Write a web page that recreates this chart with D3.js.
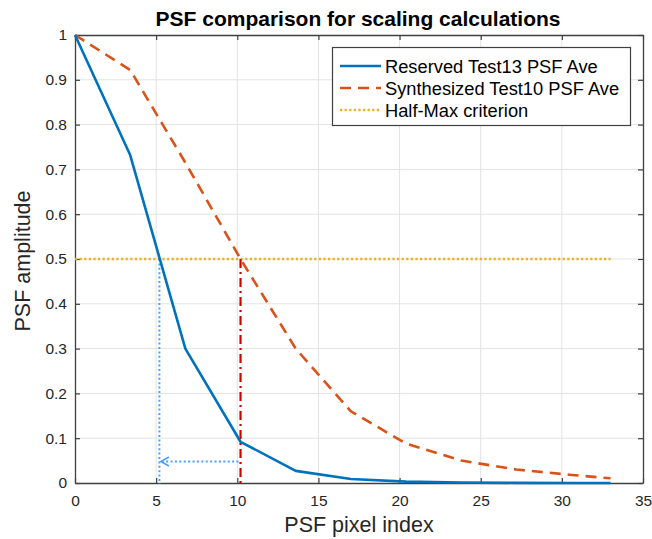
<!DOCTYPE html>
<html>
<head>
<meta charset="utf-8">
<script src="https://cdn.jsdelivr.net/npm/d3@7"></script>
<style>
  html, body { margin: 0; padding: 0; background: #fff; }
  svg { display: block; font-family: "Liberation Sans", Arial, Helvetica, sans-serif; }
</style>
</head>
<body>
<svg id="chart" width="652" height="539"></svg>
<script>
// PSF sample positions (pixel index) and averaged amplitudes
const pixelIndex = [0, 3.4, 6.8, 10.2, 13.6, 17, 20.4, 23.8, 27.2, 30.6, 33];
const reservedTest13 = [1, 0.732, 0.30, 0.092, 0.027, 0.009, 0.003, 0.001, 0.0003, 0.0001, 0];
const synthesizedTest10 = [1, 0.922, 0.715, 0.50, 0.30, 0.16, 0.088, 0.05, 0.03, 0.018, 0.0105];
const halfMax = 0.5;
// half-max widths
const fwhmReserved = 5.2;
const fwhmSynthesized = 10.2;
const arrowLevel = 0.048;

const xTicks = [0, 5, 10, 15, 20, 25, 30, 35];
const yTicks = [0, 0.1, 0.2, 0.3, 0.4, 0.5, 0.6, 0.7, 0.8, 0.9, 1];
const seriesNames = ["Reserved Test13 PSF Ave", "Synthesized Test10 PSF Ave", "Half-Max criterion"];

const svg = d3.select("#chart");
const mLeft = 75, mRight = 643, mTop = 35, mBottom = 483;

const x = d3.scaleLinear().domain([0, 35]).range([mLeft, mRight]);
const y = d3.scaleLinear().domain([0, 1]).range([mBottom, mTop]);

const axisColor = "#404040";

// grid
const grid = svg.append("g").attr("stroke", "#e3e3e3").attr("stroke-width", 1);
grid.selectAll("line.gx").data(xTicks.slice(1, -1)).join("line")
  .attr("x1", d => x(d)).attr("x2", d => x(d)).attr("y1", mTop).attr("y2", mBottom);
grid.selectAll("line.gy").data(yTicks.slice(1, -1)).join("line")
  .attr("x1", mLeft).attr("x2", mRight).attr("y1", d => y(d)).attr("y2", d => y(d));

// axes (inward ticks on all four sides)
const fmt = d => String(d);
const axB = svg.append("g").attr("transform", `translate(0,${mBottom})`)
  .call(d3.axisBottom(x).tickValues(xTicks).tickSizeInner(-5).tickSizeOuter(0).tickPadding(12).tickFormat(fmt));
const axT = svg.append("g").attr("transform", `translate(0,${mTop})`)
  .call(d3.axisTop(x).tickValues(xTicks).tickSizeInner(-5).tickSizeOuter(0).tickFormat(""));
const axL = svg.append("g").attr("transform", `translate(${mLeft},0)`)
  .call(d3.axisLeft(y).tickValues(yTicks).tickSizeInner(-5).tickSizeOuter(0).tickPadding(8).tickFormat(fmt));
const axR = svg.append("g").attr("transform", `translate(${mRight},0)`)
  .call(d3.axisRight(y).tickValues(yTicks).tickSizeInner(-5).tickSizeOuter(0).tickFormat(""));
[axB, axT, axL, axR].forEach(a => {
  a.select(".domain").attr("stroke", axisColor).attr("stroke-width", 1.3);
  a.selectAll(".tick line").attr("stroke", axisColor).attr("stroke-width", 1.2);
  a.selectAll("text").attr("fill", "#262626").style("font-size", "15.5px")
    .style("font-family", "'Liberation Sans', Arial, sans-serif");
});

// curves
const line = d3.line().x(d => x(d[0])).y(d => y(d[1]));
const plot = svg.append("g");

// half-max level
plot.append("line")
  .attr("x1", x(0)).attr("x2", x(pixelIndex[pixelIndex.length - 1]))
  .attr("y1", y(halfMax)).attr("y2", y(halfMax))
  .attr("stroke", "#EDB120").attr("stroke-width", 2.4).attr("stroke-dasharray", "2.2,2.4");

// width markers
plot.append("line")
  .attr("x1", x(fwhmReserved)).attr("x2", x(fwhmReserved))
  .attr("y1", y(halfMax)).attr("y2", y(0) + 1)
  .attr("stroke", "#4d9fff").attr("stroke-width", 2).attr("stroke-dasharray", "2,2.4");
plot.append("line")
  .attr("x1", x(fwhmSynthesized)).attr("x2", x(fwhmSynthesized))
  .attr("y1", y(halfMax)).attr("y2", y(0) + 2)
  .attr("stroke", "#d40000").attr("stroke-width", 2.2).attr("stroke-dasharray", "9,4,2,4");

// arrow from the wider half-max point back to the narrower one
plot.append("line")
  .attr("x1", x(fwhmSynthesized) - 2).attr("x2", x(fwhmReserved) + 2)
  .attr("y1", y(arrowLevel)).attr("y2", y(arrowLevel))
  .attr("stroke", "#4d9fff").attr("stroke-width", 2).attr("stroke-dasharray", "2,2.4");
const ax0 = x(fwhmReserved) + 1.5, ay0 = y(arrowLevel);
plot.append("path")
  .attr("d", `M${ax0 + 8},${ay0 - 4.5} L${ax0},${ay0} L${ax0 + 8},${ay0 + 4.5}`)
  .attr("fill", "none").attr("stroke", "#4d9fff").attr("stroke-width", 1.6);

plot.append("path")
  .datum(pixelIndex.map((p, i) => [p, synthesizedTest10[i]]))
  .attr("d", line).attr("fill", "none")
  .attr("stroke", "#D95319").attr("stroke-width", 2.6).attr("stroke-dasharray", "11,7");
plot.append("path")
  .datum(pixelIndex.map((p, i) => [p, reservedTest13[i]]))
  .attr("d", line).attr("fill", "none")
  .attr("stroke", "#0072BD").attr("stroke-width", 2.6).attr("stroke-linejoin", "round");

// title and axis labels
svg.append("text").attr("x", (mLeft + mRight) / 2 - 1).attr("y", 26)
  .attr("text-anchor", "middle").attr("font-weight", "bold").attr("font-size", 21)
  .attr("fill", "#000").text("PSF comparison for scaling calculations");
svg.append("text").attr("x", (mLeft + mRight) / 2).attr("y", 532)
  .attr("text-anchor", "middle").attr("font-size", 21.5).attr("fill", "#262626")
  .text("PSF pixel index");
svg.append("text").attr("transform", `translate(30,${(mTop + mBottom) / 2 + 2}) rotate(-90)`)
  .attr("text-anchor", "middle").attr("font-size", 21.5).attr("fill", "#262626")
  .text("PSF amplitude");

// legend
const lg = svg.append("g");
lg.append("rect").attr("x", 332.5).attr("y", 47.5).attr("width", 298).attr("height", 78)
  .attr("fill", "#fff").attr("stroke", "#404040").attr("stroke-width", 1.2);
const legendStyles = [
  { color: "#0072BD", dash: null, w: 2.6 },
  { color: "#D95319", dash: "11,7", w: 2.6 },
  { color: "#EDB120", dash: "2.2,2.4", w: 2.4 }
];
const rows = lg.selectAll("g.row").data(seriesNames).join("g")
  .attr("transform", (d, i) => `translate(0,${66 + i * 22})`);
rows.append("line").attr("x1", 340).attr("x2", 381).attr("y1", 0).attr("y2", 0)
  .attr("stroke", (d, i) => legendStyles[i].color)
  .attr("stroke-width", (d, i) => legendStyles[i].w)
  .attr("stroke-dasharray", (d, i) => legendStyles[i].dash);
rows.append("text").attr("x", 385).attr("y", 6.5).attr("font-size", 18.3).attr("fill", "#000")
  .text(d => d);
</script>
</body>
</html>
